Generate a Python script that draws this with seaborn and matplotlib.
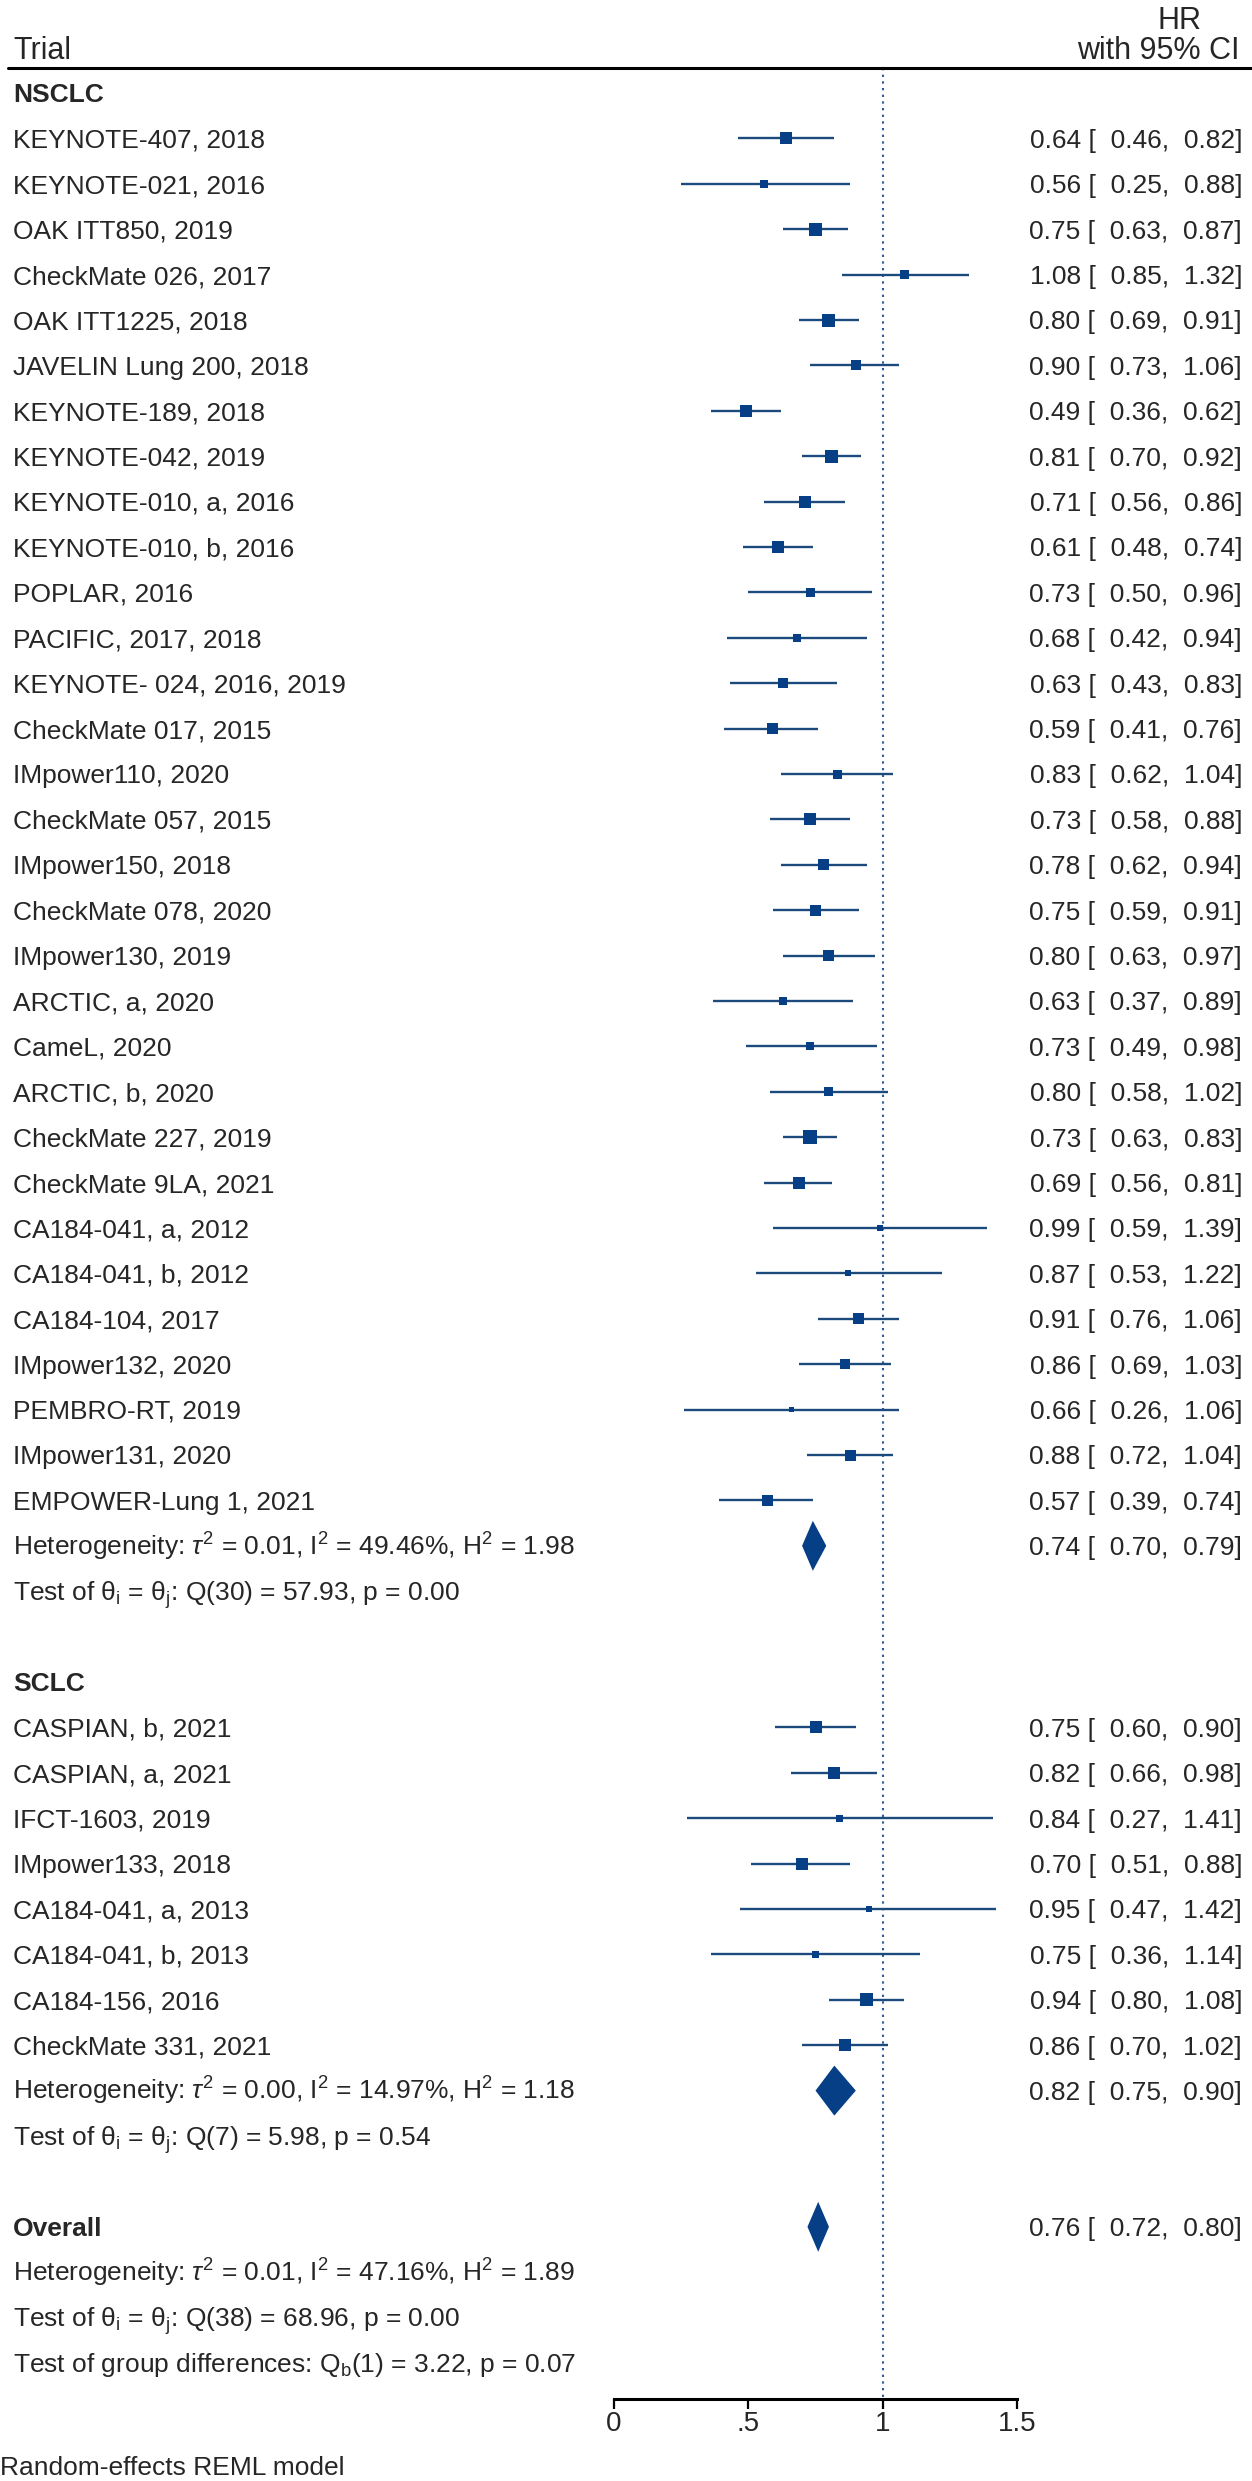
import numpy as np
import matplotlib
matplotlib.use("Agg")
import matplotlib.pyplot as plt
import seaborn as sns

# ---- data ----
nsclc_trials = [
    "KEYNOTE-407, 2018", "KEYNOTE-021, 2016", "OAK ITT850, 2019", "CheckMate 026, 2017",
    "OAK ITT1225, 2018", "JAVELIN Lung 200, 2018", "KEYNOTE-189, 2018", "KEYNOTE-042, 2019",
    "KEYNOTE-010, a, 2016", "KEYNOTE-010, b, 2016", "POPLAR, 2016", "PACIFIC, 2017, 2018",
    "KEYNOTE- 024, 2016, 2019", "CheckMate 017, 2015", "IMpower110, 2020", "CheckMate 057, 2015",
    "IMpower150, 2018", "CheckMate 078, 2020", "IMpower130, 2019", "ARCTIC, a, 2020",
    "CameL, 2020", "ARCTIC, b, 2020", "CheckMate 227, 2019", "CheckMate 9LA, 2021",
    "CA184-041, a, 2012", "CA184-041, b, 2012", "CA184-104, 2017", "IMpower132, 2020",
    "PEMBRO-RT, 2019", "IMpower131, 2020", "EMPOWER-Lung 1, 2021",
]
nsclc_hr = [0.64, 0.56, 0.75, 1.08, 0.80, 0.90, 0.49, 0.81, 0.71, 0.61, 0.73, 0.68, 0.63, 0.59,
            0.83, 0.73, 0.78, 0.75, 0.80, 0.63, 0.73, 0.80, 0.73, 0.69, 0.99, 0.87, 0.91, 0.86,
            0.66, 0.88, 0.57]
nsclc_lo = [0.46, 0.25, 0.63, 0.85, 0.69, 0.73, 0.36, 0.70, 0.56, 0.48, 0.50, 0.42, 0.43, 0.41,
            0.62, 0.58, 0.62, 0.59, 0.63, 0.37, 0.49, 0.58, 0.63, 0.56, 0.59, 0.53, 0.76, 0.69,
            0.26, 0.72, 0.39]
nsclc_hi = [0.82, 0.88, 0.87, 1.32, 0.91, 1.06, 0.62, 0.92, 0.86, 0.74, 0.96, 0.94, 0.83, 0.76,
            1.04, 0.88, 0.94, 0.91, 0.97, 0.89, 0.98, 1.02, 0.83, 0.81, 1.39, 1.22, 1.06, 1.03,
            1.06, 1.04, 0.74]
# square side (px) ~ study weight
nsclc_box = [12, 8, 13, 9, 13, 10, 12, 13, 12, 12, 9, 8, 10, 11, 9, 12, 11, 11, 11, 8, 8, 9, 14,
             12, 6, 6, 11, 10, 5, 11, 11]

sclc_trials = [
    "CASPIAN, b, 2021", "CASPIAN, a, 2021", "IFCT-1603, 2019", "IMpower133, 2018",
    "CA184-041, a, 2013", "CA184-041, b, 2013", "CA184-156, 2016", "CheckMate 331, 2021",
]
sclc_hr = [0.75, 0.82, 0.84, 0.70, 0.95, 0.75, 0.94, 0.86]
sclc_lo = [0.60, 0.66, 0.27, 0.51, 0.47, 0.36, 0.80, 0.70]
sclc_hi = [0.90, 0.98, 1.41, 0.88, 1.42, 1.14, 1.08, 1.02]
sclc_box = [12, 12, 7, 12, 6, 7, 13, 12]

pooled_hr = [0.74, 0.82, 0.76]   # NSCLC, SCLC, Overall
pooled_lo = [0.70, 0.75, 0.72]
pooled_hi = [0.79, 0.90, 0.80]

het_text = [
    r"Heterogeneity: $\tau^2$ = 0.01, I$^2$ = 49.46%, H$^2$ = 1.98",
    r"Heterogeneity: $\tau^2$ = 0.00, I$^2$ = 14.97%, H$^2$ = 1.18",
    r"Heterogeneity: $\tau^2$ = 0.01, I$^2$ = 47.16%, H$^2$ = 1.89",
]
test_text = [
    r"Test of $\mathrm{\theta}_\mathrm{i}$ = $\mathrm{\theta}_\mathrm{j}$: Q(30) = 57.93, p = 0.00",
    r"Test of $\mathrm{\theta}_\mathrm{i}$ = $\mathrm{\theta}_\mathrm{j}$: Q(7) = 5.98, p = 0.54",
    r"Test of $\mathrm{\theta}_\mathrm{i}$ = $\mathrm{\theta}_\mathrm{j}$: Q(38) = 68.96, p = 0.00",
]
group_text = r"Test of group differences: Q$_\mathrm{b}$(1) = 3.22, p = 0.07"

xticks = [0, 0.5, 1, 1.5]
xtick_labels = ["0", ".5", "1", "1.5"]

# ---- style ----
sns.set_style("white")
plt.rcParams["font.family"] = ["Liberation Sans", "DejaVu Sans"]
plt.rcParams["mathtext.fontset"] = "custom"
plt.rcParams["mathtext.rm"] = "Liberation Sans"
plt.rcParams["mathtext.it"] = "Liberation Sans:italic"
plt.rcParams["mathtext.bf"] = "Liberation Sans:bold"

FS = 19
HFS = 22
MARK = "#063F85"
CI = "#1C4A7D"
REF = "#2A5E98"

W, H = 1252, 2481
X0_PX, UNIT_PX = 614, 268.7
ROW0_PX, PITCH = 93, 45.4


def px_x(px):
    return (px - X0_PX) / UNIT_PX


def px_y(py):
    return (py - ROW0_PX) / PITCH


fig = plt.figure(figsize=(W / 100, H / 100), dpi=100)
ax = fig.add_axes([0, 0, 1, 1])
ax.set_xlim(px_x(0), px_x(W))
ax.set_ylim(px_y(H), px_y(0))

# row layout
nsclc_rows = np.arange(1, 32)
sclc_rows = np.arange(36, 44)
het_rows = [32, 44, 48]
test_rows = [33, 45, 49]
pooled_rows = [32, 44, 47]
BASE = 9.4 / PITCH  # baseline offset from row centre

# CIs and squares
all_hr = nsclc_hr + sclc_hr
all_lo = nsclc_lo + sclc_lo
all_hi = nsclc_hi + sclc_hi
all_rows = np.concatenate([nsclc_rows, sclc_rows])
all_box = np.array(nsclc_box + sclc_box, dtype=float)

ax.hlines(all_rows, all_lo, all_hi, color=CI, lw=1.7, zorder=2)
sns.scatterplot(x=all_hr, y=all_rows, marker="s", s=(all_box * 0.72) ** 2,
                color=MARK, linewidth=0, edgecolor="none", legend=False, ax=ax, zorder=3)

# pooled diamonds
half = 25 / PITCH
for hr, lo, hi, r in zip(pooled_hr, pooled_lo, pooled_hi, pooled_rows):
    ax.fill([lo, hr, hi, hr], [r, r - half, r, r + half], color=MARK, lw=0, zorder=3)

# reference line at HR = 1
ax.plot([1, 1], [px_y(68), px_y(2399)], color=REF, lw=1.5,
        linestyle=(0, (1.1, 2.1)), zorder=1)

# header
ax.plot([px_x(8), px_x(W)], [px_y(68), px_y(68)], color="black", lw=2.2, clip_on=False)
HB = 11 / PITCH
ax.text(px_x(13), px_y(48) + HB, "Trial", fontsize=HFS, va="baseline")
ax.text(px_x(1179), px_y(18) + HB, "HR", fontsize=HFS, va="baseline", ha="center")
ax.text(px_x(1240), px_y(48) + HB, "with 95% CI", fontsize=HFS, va="baseline", ha="right")

LX = px_x(13)
RX = px_x(1242)

# group headings
for lab, r in zip(["NSCLC", "SCLC", "Overall"], [0, 35, 47]):
    ax.text(LX, r + BASE, lab, fontsize=FS, fontweight="bold", va="baseline")

for name, hr, lo, hi, r in zip(nsclc_trials + sclc_trials, all_hr, all_lo, all_hi, all_rows):
    ax.text(LX, r + BASE, name, fontsize=FS, va="baseline")
    ax.text(RX, r + BASE, f"{hr:.2f} [  {lo:.2f},  {hi:.2f}]", fontsize=FS,
            va="baseline", ha="right")

for hr, lo, hi, r in zip(pooled_hr, pooled_lo, pooled_hi, pooled_rows):
    ax.text(RX, r + BASE, f"{hr:.2f} [  {lo:.2f},  {hi:.2f}]", fontsize=FS,
            va="baseline", ha="right")

for t, r in zip(het_text, het_rows):
    ax.text(LX, r + BASE, t, fontsize=FS, va="baseline")
for t, r in zip(test_text, test_rows):
    ax.text(LX, r + BASE, t, fontsize=FS, va="baseline")
ax.text(LX, 50 + BASE, group_text, fontsize=FS, va="baseline")

ax.text(px_x(0), px_y(2466) + BASE, "Random-effects REML model", fontsize=FS, va="baseline")

# x axis
for s in ["top", "left", "right"]:
    ax.spines[s].set_visible(False)
ax.spines["bottom"].set_position(("data", px_y(2399)))
ax.spines["bottom"].set_bounds(0, 1.5)
ax.spines["bottom"].set_linewidth(2.2)
ax.spines["bottom"].set_color("black")
ax.set_xticks(xticks, xtick_labels)
ax.set_yticks([])
ax.tick_params(axis="x", length=7.5, width=1.6, labelsize=FS + 1, pad=1, direction="out",
               color="black", bottom=True)

fig.savefig("out.png", dpi=100)
